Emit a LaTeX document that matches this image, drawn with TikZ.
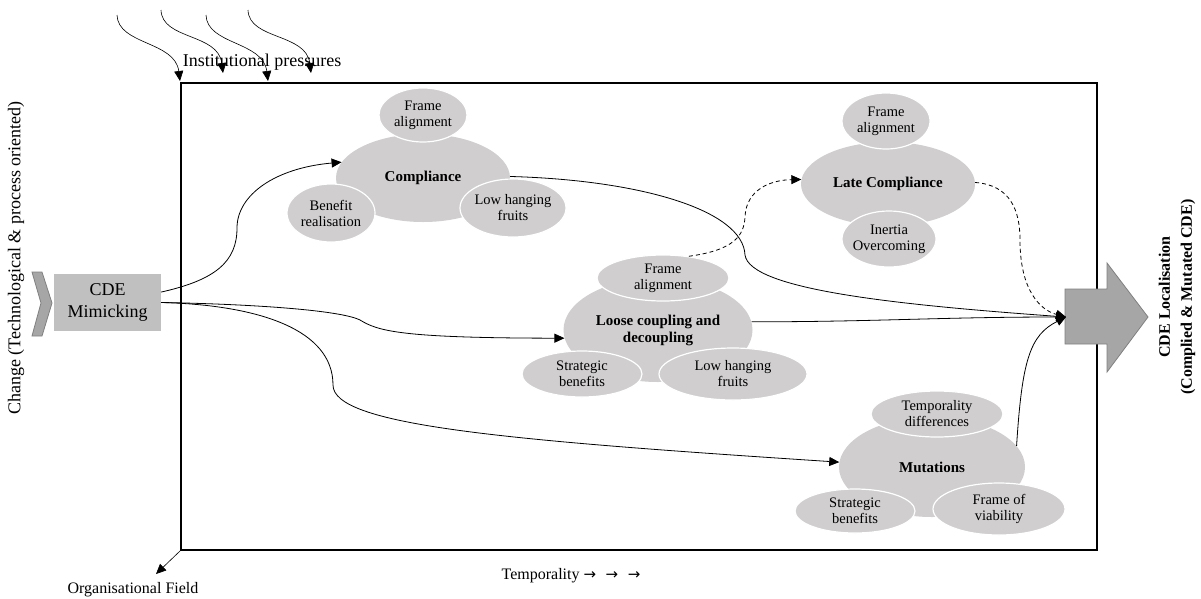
\documentclass[tikz,border=0pt]{standalone}
\usepackage{fontspec}
\setmainfont{Liberation Serif}
\newfontfamily\arrowfont{DejaVu Sans}
\usetikzlibrary{shapes.geometric,arrows.meta}
\definecolor{stagegray}{RGB}{208,206,206}
\definecolor{mimicgray}{RGB}{192,192,192}
\definecolor{arrowgray}{RGB}{166,166,166}
\definecolor{edgegray}{RGB}{128,128,128}
\tikzset{
  stage/.style={ellipse, fill=stagegray, inner sep=0pt, align=center,
    font=\bfseries\fontsize{15}{17}\selectfont},
  facet/.style={ellipse, fill=stagegray, draw=white, line width=1.2pt,
    inner sep=-6pt, align=center, font=\fontsize{14.5}{16}\selectfont},
  flow/.style={-{Triangle[length=10pt,width=9pt]}, line width=0.8pt},
  lateflow/.style={flow, dash pattern=on 4pt off 3pt},
}
\begin{document}
\begin{tikzpicture}[x=1pt,y=-1pt]
  \useasboundingbox (0,0) rectangle (1201,598);
  \node[draw, line width=1.5pt, minimum width=916pt, minimum height=467pt, inner sep=0pt] (field) at (639,316.5) {};

  \node[font=\fontsize{18}{22}\selectfont] (inst) at (262,62) {Institutional pressures};
  \foreach \n/\sx/\sy/\ex/\ey in {1/117/15/180/81, 2/161/10/223/73, 3/206/15/268/81, 4/248/10/311/73} {
    \coordinate (src\n) at (\sx,\sy);
    \coordinate (tgt\n) at (\ex,\ey);
    \draw[flow, line width=0.6pt] (src\n) .. controls +(1,30) and +(-5,-40) .. (tgt\n);
  }

  \node[rotate=90, font=\fontsize{18}{22}\selectfont] (change) at (16,258) {Change (Technological \& process oriented)};
  \draw[fill=arrowgray, draw=edgegray, line width=0.8pt] (32,272) -- (42,272) -- (52,303) -- (42,336) -- (32,336) -- (41,303) -- cycle;
  \node[fill=mimicgray, minimum width=107pt, minimum height=57pt, inner sep=0pt, align=center,
    font=\fontsize{18}{22}\selectfont] (mimic) at (107.5,302.5) {CDE\\Mimicking};

  \node[stage, minimum width=174pt, minimum height=88pt] (comp) at (423,178) {Compliance};
  \node[facet, minimum width=88pt, minimum height=54pt] (compfa) at (423,115) {Frame\\alignment};
  \node[facet, minimum width=88pt, minimum height=58pt] (compbr) at (331,213) {Benefit\\realisation};
  \node[facet, minimum width=106pt, minimum height=58pt] (complh) at (513,208) {Low hanging\\fruits};

  \node[stage, minimum width=189pt, minimum height=104pt] (loose) at (658,330) {Loose coupling and\\decoupling};
  \node[facet, minimum width=132pt, minimum height=46pt] (loosefa) at (663,278) {Frame\\alignment};
  \node[facet, minimum width=120pt, minimum height=46pt] (loosesb) at (582,374) {Strategic\\benefits};
  \node[facet, minimum width=148pt, minimum height=52pt] (looselh) at (733,374) {Low hanging\\fruits};

  \node[stage, minimum width=186pt, minimum height=100pt] (mut) at (932,467) {Mutations};
  \node[facet, minimum width=132pt, minimum height=46pt] (muttd) at (937,414) {Temporality\\differences};
  \node[facet, minimum width=120pt, minimum height=44pt] (mutsb) at (855,511) {Strategic\\benefits};
  \node[facet, minimum width=132pt, minimum height=52pt] (mutfv) at (999,509) {Frame of\\viability};

  \node[stage, minimum width=174pt, minimum height=84pt] (late) at (888,184) {Late Compliance};
  \node[facet, minimum width=88pt, minimum height=56pt] (latefa) at (886,121) {Frame\\alignment};
  \node[facet, minimum width=94pt, minimum height=56pt] (latein) at (889,239) {Inertia\\Overcoming};

  \draw[fill=arrowgray, draw=edgegray, line width=0.8pt] (1065,289) -- (1107,289) -- (1107,263) -- (1148,317)
    -- (1107,372) -- (1107,344) -- (1065,344) -- cycle;
  \coordinate (loc) at (1066,317);
  \node[rotate=90, align=center, font=\bfseries\fontsize{16}{22}\selectfont] (loctext) at (1177,297)
    {CDE Localisation\\(Complied \& Mutated CDE)};

  \draw[flow] (mimic.11) .. controls (215,280) and (237,262) .. (237,228) .. controls (237,195) and (275,168) .. (comp.169);
  \draw[flow] (mimic.east) .. controls (250,304) and (340,310) .. (360,320) .. controls (378,331) and (400,338) .. (loose.185);
  \draw[flow] (mimic.east) .. controls (260,305) and (333,330) .. (333,385) .. controls (333,425) and (500,440) .. (mut.177);
  \draw[flow] (comp.1) .. controls (640,180) and (743,210) .. (745,255) .. controls (750,290) and (900,305) .. (loc);
  \draw[flow] (loose.5) to[out=0,in=180] (loc);
  \draw[flow] (mut.14) .. controls (1022,360) and (1030,335) .. (loc);
  \draw[lateflow] (loosefa.40) .. controls (735,250) and (744,235) .. (745,217) .. controls (746,190) and (770,180) .. (late.177);
  \draw[lateflow] (late.1) .. controls (1010,185) and (1020,210) .. (1020,240) .. controls (1020,290) and (1040,310) .. (loc);

  \node[font=\fontsize{16}{20}\selectfont] (org) at (133,590) {Organisational Field};
  \coordinate (orgtip) at (156,574);
  \draw[flow, line width=0.6pt] (field.south west) -- (orgtip);
  \node[font=\fontsize{16}{20}\selectfont] (time) at (571,576) {Temporality\ {\arrowfont\fontsize{15}{18}\selectfont →\ \ →\ \ →}};
\end{tikzpicture}
\end{document}
